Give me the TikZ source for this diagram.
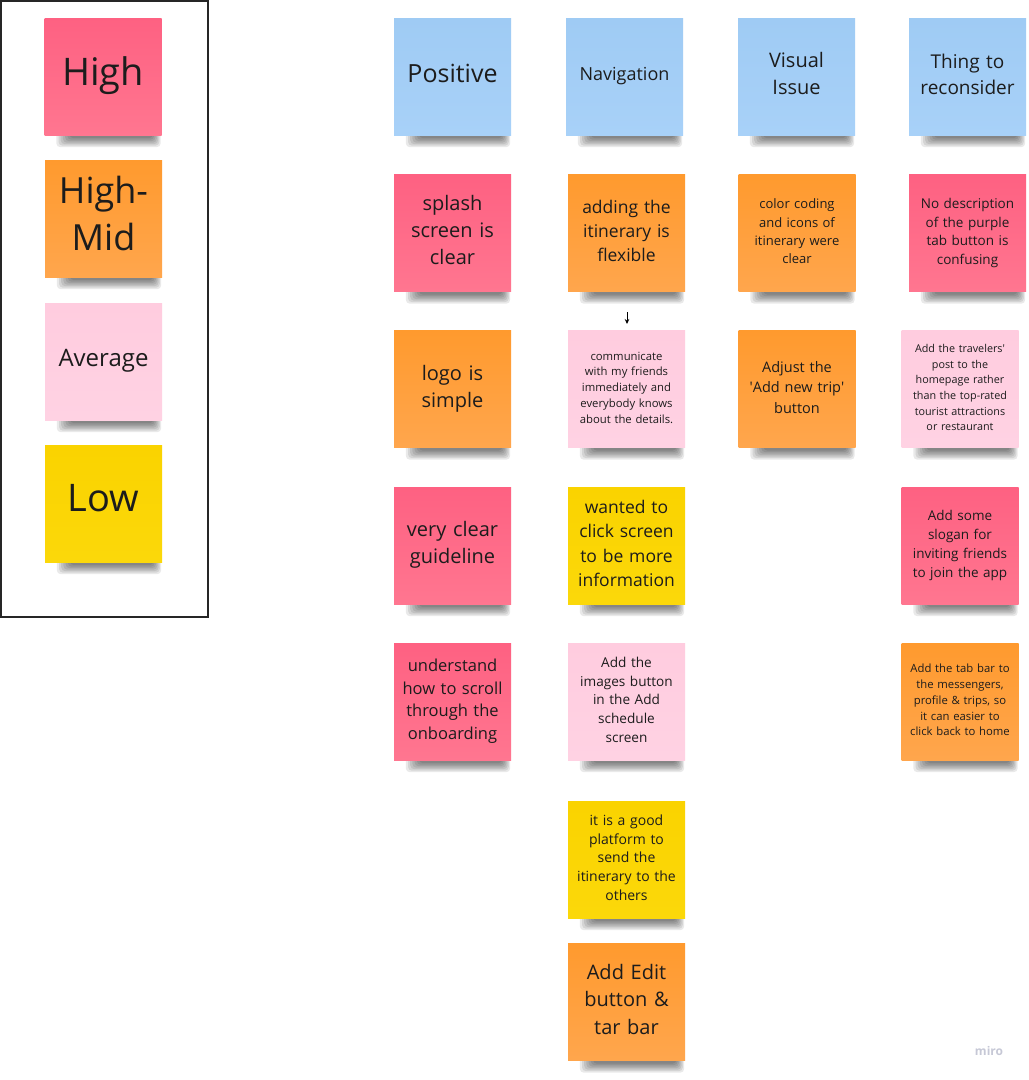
\documentclass[tikz,border=0pt]{standalone}
\usepackage{fontspec}
\setmainfont{Open Sans}
\usetikzlibrary{arrows.meta,calc,backgrounds}
\definecolor{nred}{HTML}{FE6182}
\definecolor{nredb}{HTML}{FF7690}
\definecolor{norange}{HTML}{FF9A2E}
\definecolor{norangeb}{HTML}{FFA64D}
\definecolor{npink}{HTML}{FFCCDF}
\definecolor{npinkb}{HTML}{FFD2E3}
\definecolor{nyellow}{HTML}{FAD300}
\definecolor{nyellowb}{HTML}{FBD80A}
\definecolor{nblue}{HTML}{9FCBF4}
\definecolor{nblueb}{HTML}{A8D1F8}
\definecolor{ntext}{HTML}{1C1C1C}
\definecolor{frame}{HTML}{262626}
\definecolor{miroc}{HTML}{C6C8D6}
\newcommand{\fs}[2]{\fontsize{#1}{#2}\selectfont}
\newcommand{\notestrut}{\rule[-0.27em]{0pt}{0.5em}}
\newcommand{\noteshadow}[1]{%
  \begin{scope}[on background layer]
    \foreach \k in {0,...,6}{
      \fill[black, opacity=0.085, rounded corners=4pt]
        ($(#1.south west)+(12+2.2*\k,-6)$) rectangle ($(#1.south east)+(-1-1.3*\k,12-1.5*\k)$);
    }
  \end{scope}}
\tikzset{
  note/.style={minimum width=117pt, minimum height=117pt, inner sep=0pt,
    text width=110pt, align=center, text=ntext,
    execute at end node={\notestrut}},
  redn/.style={note, top color=nred, bottom color=nredb},
  orangen/.style={note, top color=norange, bottom color=norangeb},
  pinkn/.style={note, top color=npink, bottom color=npinkb},
  yellown/.style={note, top color=nyellow, bottom color=nyellowb},
  bluen/.style={note, top color=nblue, bottom color=nblueb},
}
\begin{document}
\begin{tikzpicture}[x=1pt,y=-1pt]
\useasboundingbox (0,0) rectangle (1029,1080);
\begin{scope}[on background layer]
  \fill[white] (0,0) rectangle (1029,1080);
\end{scope}
% legend frame
\draw[line width=2pt, draw=frame] (1,1) rectangle (208,617);
\node[redn,    font=\fs{38}{48}] (high)    at (103,76.5)   {High};
\node[orangen, font=\fs{36}{47}] (highmid) at (103.5,218.5) {High-\\Mid};
\node[pinkn,   font=\fs{24}{30}] (avg)     at (103.5,361.5) {Average};
\node[yellown, font=\fs{38}{48}] (low)     at (103.5,503.5) {Low};
% headers
\node[bluen, font=\fs{25}{32}] (hpos) at (452.5,76.5) {Positive};
\node[bluen, font=\fs{18}{24}] (hnav) at (624.5,76.5) {Navigation};
\node[bluen, font=\fs{20}{27}] (hvis) at (796.5,76.5) {Visual\\Issue};
\node[bluen, font=\fs{19}{26}] (hthing) at (967.5,76.5) {Thing to\\reconsider};
% column 1
\node[redn, font=\fs{20}{27}] (splash) at (452.5,233) {splash\\screen is\\clear};
\node[orangen, font=\fs{20}{27}] (logo) at (452.5,389) {logo is\\simple};
\node[redn, font=\fs{20}{27}] (guide) at (452.5,545.5) {very clear\\guideline};
\node[redn, font=\fs{16.5}{22.5}] (scroll) at (452.5,701.5) {understand\\how to scroll\\through the\\onboarding};
% column 2
\node[orangen, font=\fs{17.5}{24}] (adding) at (626.5,233) {adding the\\itinerary is\\flexible};
\node[pinkn, font=\fs{11.3}{15.7}] (comm) at (626.5,389) {communicate\\with my friends\\immediately and\\everybody knows\\about the details.};
\node[yellown, font=\fs{17.5}{24.5}] (wanted) at (626.5,545.5) {wanted to\\click screen\\to be more\\information};
\node[pinkn, font=\fs{13.6}{18.7}] (images) at (626.5,701.5) {Add the\\images button\\in the Add\\schedule\\screen};
\node[yellown, font=\fs{14}{18.7}] (good) at (626.5,859.5) {it is a good\\platform to\\send the\\itinerary to the\\others};
\node[orangen, font=\fs{20}{27.5}] (edit) at (626.5,1002) {Add Edit\\button \&\\tar bar};
% column 3
\node[orangen, font=\fs{13}{18.2}] (color) at (797,233) {color coding\\and icons of\\itinerary were\\clear};
\node[orangen, font=\fs{14.5}{20.5}] (adjust) at (797,389) {Adjust the\\\textquotesingle Add new trip\textquotesingle\\button};
% column 4
\node[redn, font=\fs{13.5}{18.5}] (nodesc) at (967.5,233) {No description\\of the purple\\tab button is\\confusing};
\node[pinkn, font=\fs{10.8}{15.6}] (travel) at (960,389) {Add the travelers\textquotesingle\\post to the\\homepage rather\\than the top-rated\\tourist attractions\\or restaurant};
\node[redn, font=\fs{13.5}{19}] (slogan) at (960,545.5) {Add some\\slogan for\\inviting friends\\to join the app};
\node[orangen, font=\fs{11.3}{15.8}] (tabbar) at (960,701.5) {Add the tab bar to\\the messengers,\\profile \& trips, so\\it can easier to\\click back to home};
% shadows
\foreach \n in {high,highmid,avg,low,hpos,hnav,hvis,hthing,splash,logo,guide,scroll,
  adding,comm,wanted,images,good,edit,color,adjust,nodesc,travel,slogan,tabbar}{
  \noteshadow{\n}
}
% small arrow
\coordinate (arrS) at (627,312);
\coordinate (arrE) at (627,324);
\draw[line width=0.8pt, -{Stealth[length=5pt,width=4.5pt]}] (arrS) -- (arrE);
% watermark
\node[text=miroc, font=\bfseries\fs{12}{14}] (miro) at (989,1051) {miro};
\end{tikzpicture}
\end{document}
